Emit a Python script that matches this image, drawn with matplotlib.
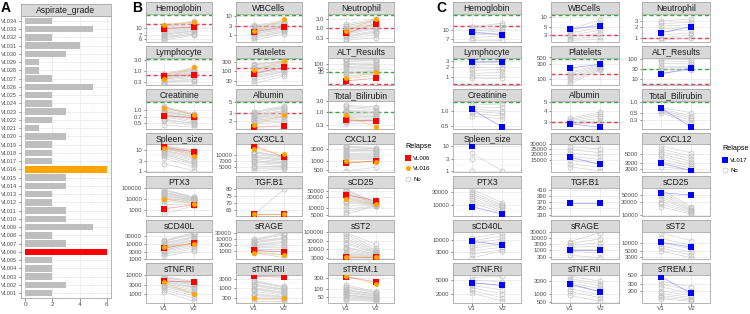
import numpy as np
import matplotlib
matplotlib.use('Agg')
import matplotlib.pyplot as plt
from matplotlib.lines import Line2D
from matplotlib.ticker import NullLocator

plt.rcParams['font.family'] = ['Liberation Sans', 'DejaVu Sans']

# ---------------- Panel A data ----------------
A_IDS = ['VL001', 'VL002', 'VL003', 'VL004', 'VL005', 'VL006', 'VL007', 'VL008', 'VL009', 'VL010',
         'VL011', 'VL012', 'VL013', 'VL014', 'VL015', 'VL016', 'VL017', 'VL018', 'VL019', 'VL020',
         'VL021', 'VL022', 'VL023', 'VL024', 'VL025', 'VL026', 'VL027', 'VL028', 'VL029', 'VL030',
         'VL031', 'VL032', 'VL033', 'VL034']
A_GRADE = [2, 3, 2, 2, 2, 6, 3, 2, 5, 3, 3, 2, 2, 3, 3, 6, 2, 2, 2, 3,
           1, 2, 3, 2, 2, 5, 2, 1, 1, 3, 4, 2, 5, 2]
A_TICKS = [0, 2, 4, 6]

FACETS = ['Hemoglobin', 'WBCells', 'Neutrophil', 'Lymphocyte', 'Platelets', 'ALT_Results',
          'Creatinine', 'Albumin', 'Total_Bilirubin', 'Spleen_size', 'CX3CL1', 'CXCL12',
          'PTX3', 'TGF.B1', 'sCD25', 'sCD40L', 'sRAGE', 'sST2', 'sTNF.RI', 'sTNF.RII', 'sTREM.1']
LINEAR = ['TGF.B1']

# reference limits (upper = green, lower = red)
UPPER = {'Hemoglobin': 17.5, 'WBCells': 11, 'Neutrophil': 4.5, 'Lymphocyte': 3.5, 'Platelets': 450,
         'ALT_Results': 30, 'Creatinine': 1.5, 'Albumin': 5, 'Total_Bilirubin': 1.0}
LOWER = {'Hemoglobin': 11.5, 'WBCells': 3, 'Neutrophil': 1.0, 'Lymphocyte': 0.65, 'Platelets': 150,
         'ALT_Results': 6, 'Albumin': 3}

# ---------------- Panel B data ----------------
B_NO_V1 = {
    'Hemoglobin': [11.0, 10.8, 10.5, 10.0, 9.6, 9.3, 9.0, 8.6, 8.2, 7.8, 7.4, 7.2, 7.0, 6.5, 6.3, 6.0, 5.6],
    'WBCells': [3.4, 3.0, 2.8, 2.6, 2.2, 2.0, 1.9, 1.7, 1.5, 1.3, 1.2, 1.1, 0.9, 0.8, 0.7, 0.55],
    'Neutrophil': [1.5, 1.3, 1.2, 1.0, 0.9, 0.85, 0.7, 0.6, 0.55, 0.5, 0.45, 0.38, 0.35, 0.32, 0.27, 0.22],
    'Lymphocyte': [0.72, 0.7, 0.68, 0.62, 0.58, 0.55, 0.52, 0.48, 0.44, 0.42, 0.4, 0.36, 0.32, 0.3, 0.28, 0.25],
    'Platelets': [240, 220, 200, 170, 150, 140, 120, 100, 90, 85, 70, 55, 50, 42, 30, 21],
    'ALT_Results': [200, 185, 170, 140, 110, 100, 90, 70, 60, 55, 42, 32, 28, 24, 18, 12],
    'Creatinine': [1.2, 1.15, 1.1, 1.0, 0.95, 0.92, 0.9, 0.85, 0.8, 0.78, 0.75, 0.7, 0.62, 0.58, 0.55, 0.45],
    'Albumin': [3.2, 3.1, 3.0, 2.8, 2.7, 2.6, 2.5, 2.4, 2.35, 2.3, 2.2, 2.1, 2.05, 2.0, 1.9, 1.75],
    'Total_Bilirubin': [2.0, 1.8, 1.6, 1.3, 1.2, 1.1, 0.95, 0.85, 0.75, 0.7, 0.65, 0.55, 0.48, 0.45, 0.42, 0.37],
    'Spleen_size': [16, 15, 14, 12.5, 12, 11, 10, 9.5, 9, 8, 7, 6.5, 6, 5, 4, 2.2],
    'CX3CL1': [12500, 12000, 11500, 10500, 9500, 9000, 8800, 8000, 7300, 7000, 6600, 6000, 5300, 5000, 4600, 4000],
    'CXCL12': [3800, 3500, 3300, 2900, 2700, 2600, 2300, 2000, 1900, 1800, 1600, 1400, 1300, 1200, 900, 450],
    'PTX3': [80000, 70000, 60000, 45000, 40000, 35000, 28000, 22000, 20000, 17000, 13000, 11000, 9000, 6000, 3000, 400],
    'TGF.B1': [61.5],
    'sCD25': [60000, 55000, 50000, 42000, 40000, 36000, 30000, 28000, 25000, 20000, 18000, 16000, 12000, 9000, 7000, 5500],
    'sCD40L': [17000, 15000, 14000, 11000, 10000, 9000, 7500, 6500, 6000, 5000, 4000, 3500, 3200, 2500, 2000, 1500],
    'sRAGE': [9000, 8000, 7000, 5500, 5000, 4500, 3500, 3000, 2800, 2200, 1800, 1600, 1400, 1100, 900, 730],
    'sST2': [95000, 80000, 60000, 45000, 35000, 25000, 20000, 14000, 12000, 10000, 8000, 6500, 5500, 4800, 4200, 3800],
    'sTNF.RI': [9000, 8000, 7500, 6500, 6000, 5500, 4800, 4500, 4200, 3600, 3000, 2800, 2500, 2000, 1600, 1300],
    'sTNF.RII': [2500, 2200, 2000, 1600, 1500, 1300, 1000, 900, 800, 650, 500, 450, 400, 320, 250, 200],
    'sTREM.1': [150, 130, 120, 100, 95, 90, 80, 75, 70, 62, 58, 56, 50, 45, 40, 36],
}
B_NO_V2 = {
    'Hemoglobin': [13.5, 12.8, 12.2, 11.8, 11.0, 10.2, 10.6, 10.0, 9.6, 9.2, 8.8, 8.6, 8.4, 8.0, 7.4, 7.6, 7.1],
    'WBCells': [5.4, 4.8, 4.5, 4.2, 3.8, 3.2, 3.4, 3.0, 2.7, 2.4, 2.2, 2.1, 1.8, 1.6, 1.5, 1.2],
    'Neutrophil': [3.0, 2.4, 2.6, 2.2, 1.5, 1.9, 1.6, 1.3, 1.0, 1.1, 0.9, 0.7, 0.6, 0.55, 0.42, 0.3],
    'Lymphocyte': [1.4, 1.1, 1.2, 1.05, 0.95, 0.8, 0.85, 0.75, 0.68, 0.55, 0.6, 0.5, 0.42, 0.38, 0.33, 0.25],
    'Platelets': [340, 320, 300, 260, 210, 230, 200, 175, 140, 150, 130, 110, 95, 90, 70, 55],
    'ALT_Results': [200, 170, 150, 120, 95, 85, 75, 60, 55, 50, 40, 33, 36, 28, 24, 20],
    'Creatinine': [0.82, 0.78, 0.8, 0.76, 0.72, 0.7, 0.68, 0.64, 0.6, 0.62, 0.56, 0.52, 0.48, 0.5, 0.44, 0.4],
    'Albumin': [4.2, 3.8, 4.0, 3.7, 3.3, 3.4, 3.2, 3.0, 2.9, 2.8, 2.6, 2.4, 2.5, 2.2, 2.05, 1.9],
    'Total_Bilirubin': [1.7, 1.5, 1.3, 1.1, 1.0, 0.95, 0.85, 0.75, 0.7, 0.65, 0.58, 0.52, 0.46, 0.5, 0.41, 0.37],
    'Spleen_size': [10, 9, 8, 6.5, 7, 6, 5, 4.5, 4, 3.5, 3, 2.2, 2.5, 2, 1.5, 1],
    'CX3CL1': [9400, 9200, 9000, 8500, 8000, 7700, 7400, 6900, 6400, 6200, 5900, 5400, 5000, 5200, 4700, 4400],
    'CXCL12': [3200, 3000, 2900, 2600, 2500, 2400, 2200, 2000, 1900, 1800, 1600, 1400, 1300, 1200, 1000, 600],
    'PTX3': [15000, 14000, 13000, 11500, 10500, 10000, 9000, 8000, 8500, 7000, 6000, 6500, 5000, 4200, 3400, 2500],
    'TGF.B1': [80],
    'sCD25': [17000, 16500, 16000, 15500, 15000, 15000, 14500, 14000, 14000, 13500, 13000, 13000, 12500, 12000, 12000, 12000],
    'sCD40L': [52000, 45000, 40000, 30000, 27000, 24000, 19000, 17000, 15000, 12000, 9500, 10500, 7500, 6000, 4500, 3300],
    'sRAGE': [30000, 25000, 20000, 13000, 11000, 9000, 6000, 5000, 4000, 2800, 2000, 1600, 1300, 900, 500, 290],
    'sST2': [20000, 12000, 9000, 8000, 7000, 6500, 6000, 5000, 5500, 4600, 4300, 4000, 3800, 3600, 3400, 3200],
    'sTNF.RI': [4800, 4400, 4000, 3400, 3100, 2900, 2400, 2200, 2000, 1600, 1300, 1100, 1000, 800, 600, 400],
    'sTNF.RII': [1200, 1100, 1000, 850, 780, 700, 600, 550, 500, 420, 360, 330, 300, 260, 230, 200],
    'sTREM.1': [80, 75, 70, 62, 60, 56, 50, 52, 46, 42, 44, 40, 38, 36, 34, 32],
}
B_VL006 = {
    'Hemoglobin': (9.5, 10.3), 'WBCells': (1.5, 2.8), 'Neutrophil': (0.52, 1.63),
    'Lymphocyte': (0.58, 0.62), 'Platelets': (73, 156), 'ALT_Results': (9, 13),
    'Creatinine': (0.73, 0.67), 'Albumin': (1.5, 1.6), 'Total_Bilirubin': (0.49, 0.45),
    'Spleen_size': (13.4, 8.1), 'CX3CL1': (17600, 9000), 'CXCL12': (850, 1050),
    'PTX3': (1260, 3000), 'TGF.B1': (62, 62), 'sCD25': (35700, 20000),
    'sCD40L': (5100, 11000), 'sRAGE': (1130, 830), 'sST2': (3700, 3700),
    'sTNF.RI': (4800, 4400), 'sTNF.RII': (4050, 3600), 'sTREM.1': (330, 200),
}
B_VL016 = {
    'Hemoglobin': (11.4, 12.7), 'WBCells': (1.6, 7.2), 'Neutrophil': (0.69, 3.0),
    'Lymphocyte': (0.41, 1.48), 'Platelets': (110, 330), 'ALT_Results': (13, 30),
    'Creatinine': (1.13, 0.77), 'Albumin': (1.7, 2.7), 'Total_Bilirubin': (0.75, 0.24),
    'Spleen_size': (13, 5.3), 'CX3CL1': (14300, 10900), 'CXCL12': (1050, 920),
    'PTX3': (11000, 3600), 'TGF.B1': (62, 62), 'sCD25': (23000, 14000),
    'sCD40L': (6400, 10000), 'sRAGE': (730, 500), 'sST2': (3600, 3600),
    'sTNF.RI': (4200, 950), 'sTNF.RII': (290, 290), 'sTREM.1': (345, 160),
}
B_TICKS = {
    'Hemoglobin': ['6', '7', '10'], 'WBCells': ['1', '3', '10'], 'Neutrophil': ['0.3', '1.0', '3.0'],
    'Lymphocyte': ['0.3', '1.0', '3.0'], 'Platelets': ['30', '100', '300'],
    'ALT_Results': ['30', '50', '100'], 'Creatinine': ['0.5', '0.7', '1.0'],
    'Albumin': ['2', '3', '5'], 'Total_Bilirubin': ['0.3', '1.0', '3.0'],
    'Spleen_size': ['1', '3', '10'], 'CX3CL1': ['5000', '7000', '10000'],
    'CXCL12': ['500', '1000', '3000'], 'PTX3': ['1000', '10000', '100000'],
    'TGF.B1': ['65', '70', '75', '80'], 'sCD25': ['5000', '10000', '30000', '50000'],
    'sCD40L': ['1000', '3000', '10000', '30000'], 'sRAGE': ['1000', '3000', '10000', '30000'],
    'sST2': ['3000', '10000', '30000', '100000'], 'sTNF.RI': ['1000', '3000', '10000'],
    'sTNF.RII': ['300', '1000', '3000'], 'sTREM.1': ['50', '100', '300'],
}

# ---------------- Panel C data ----------------
NA = np.nan
C_NO_V1 = {
    'Hemoglobin': [11.2, 10.6, 10.0, 9.5, 8.8, 8.2, 7.5, 6.8],
    'WBCells': [4.6, 4.0, 3.5, 3.0, 2.7, 2.4, 2.2],
    'Neutrophil': [3.1, 2.6, 2.2, 1.8, 1.5, 1.2, 1.0, 0.85],
    'Lymphocyte': [2.8, 2.3, 1.9, 1.6, 1.3, 1.1, 0.95],
    'Platelets': [170, 150, 130, 115, 100, 85, 72],
    'ALT_Results': [100, 80, 60, 45, 35, 28, 20],
    'Creatinine': [1.3, 1.2, 1.1, 1.0, 0.9, 0.8],
    'Albumin': [3.3, 3.2, 3.1, 3.0, 2.95, 2.9],
    'Total_Bilirubin': [0.7, 0.65, 0.6, 0.55, 0.5],
    'Spleen_size': [5, 3, 1],
    'CX3CL1': [27000, 24000, 21000, 18000, 15000, 13000, 11300],
    'CXCL12': [8600, 7000, 6000, 5200, 4500, 3800, 3200, 2300],
    'PTX3': [40000, 32000, 26000, 22000, 18000, 15000, 12000],
    'TGF.B1': [],
    'sCD25': [80000, 65000, 55000, 45000, 38000, 30000, 25000, 20000],
    'sCD40L': [12000, 9000, 7000, 5500, 4500, 3500, 2500, 1800],
    'sRAGE': [4800, 3500, 2500, 1800, 1200, 800, 400],
    'sST2': [24000, 15000, 10000, 8000, 6500, 5000],
    'sTNF.RI': [6000, 5000, 4200, 3500, 3000, 2500, 2100],
    'sTNF.RII': [4300, 3500, 3000, 2500, 2000, 1500, 1200, 850],
    'sTREM.1': [350, 300, 250, 200, 170, 150, 135, 125],
}
C_NO_V2 = {
    'Hemoglobin': [13.0, 12.0, 11.2, 10.5, 9.8, 9.0, 8.0, 6.8],
    'WBCells': [8.0, 6.5, 5.0, 4.2, 3.5, 2.8, 2.3],
    'Neutrophil': [3.5, 2.8, 2.4, 2.0, 1.7, 1.4, 1.2, 1.0],
    'Lymphocyte': [2.8, 2.4, 2.0, 1.7, 1.4, 1.15, 0.95],
    'Platelets': [300, 280, 260, 240, 225, 210, 200],
    'ALT_Results': [90, 70, 55, 45, 38, 32, 28],
    'Creatinine': [1.4, 1.2, 1.0, 0.9, 0.8, 0.7],
    'Albumin': [3.9, 3.7, 3.5, 3.3, 3.1, 2.9],
    'Total_Bilirubin': [0.5, 0.4, 0.35, 0.3, 0.25],
    'Spleen_size': [1, NA, NA],
    'CX3CL1': [25000, 21000, 18000, 15500, 13000, 11000, 9500],
    'CXCL12': [5500, 4500, 3800, 3200, 2800, 2400, 2100, 1900],
    'PTX3': [12000, 10000, 9000, 8000, 7000, 6000, 5000],
    'TGF.B1': [],
    'sCD25': [20000, 18000, 16000, 15000, 14000, 13000, 12000, 11000],
    'sCD40L': [20000, 15000, 11000, 8500, 6500, 5000, 4000, 3500],
    'sRAGE': [25000, 8000, 4000, 2000, 1200, 600, 250],
    'sST2': [12000, 8000, 6000, 4500, 3500, 2800],
    'sTNF.RI': [6500, 4500, 3500, 2600, 2000, 1500, 1200],
    'sTNF.RII': [2800, 2300, 1900, 1500, 1200, 900, 700, 520],
    'sTREM.1': [250, 200, 170, 150, 135, 125, 115, 108],
}
C_VL017 = {
    'Hemoglobin': (9.2, 8.3), 'WBCells': (4.6, 5.5), 'Neutrophil': (1.4, 2.1),
    'Lymphocyte': (2.8, 2.9), 'Platelets': (228, 306), 'ALT_Results': (18, 35),
    'Creatinine': (1.1, 0.48), 'Albumin': (2.87, 2.62), 'Total_Bilirubin': (0.68, 0.19),
    'Spleen_size': (10, NA), 'CX3CL1': (17200, 12600), 'CXCL12': (2900, 1800),
    'PTX3': (8500, 4300), 'TGF.B1': (366, 366), 'sCD25': (61000, 50000),
    'sCD40L': (9000, 6000), 'sRAGE': (1130, 1130), 'sST2': (10600, 7000),
    'sTNF.RI': (4200, 3500), 'sTNF.RII': (2250, 1160), 'sTREM.1': (457, 170),
}
C_TICKS = {
    'Hemoglobin': ['7', '10'], 'WBCells': ['3', '5', '10'], 'Neutrophil': ['1', '2', '3'],
    'Lymphocyte': ['1', '2', '3'], 'Platelets': ['100', '300', '500'],
    'ALT_Results': ['10', '30', '100'], 'Creatinine': ['0.5', '1.0'],
    'Albumin': ['3', '4', '5'], 'Total_Bilirubin': ['0.3', '0.5', '1.0'],
    'Spleen_size': ['1', '3', '10'], 'CX3CL1': ['15000', '20000', '25000', '30000'],
    'CXCL12': ['2000', '3000', '5000'], 'PTX3': ['10000', '30000'],
    'TGF.B1': ['330', '350', '370', '390', '410'], 'sCD25': ['10000', '30000', '50000'],
    'sCD40L': ['3000', '10000'], 'sRAGE': ['300', '1000', '3000', '10000', '30000'],
    'sST2': ['3000', '5000', '10000'], 'sTNF.RI': ['2000', '5000'],
    'sTNF.RII': ['500', '1000', '3000'], 'sTREM.1': ['200', '300', '500'],
}
C_YLIM = {'TGF.B1': (327, 415)}

# ---------------- layout / style ----------------
W, H = 750, 314
fig = plt.figure(figsize=(W / 100, H / 100), dpi=100)
STRIP_H, PANEL_H, ROW_STEP, TOP = 12, 27.5, 43.5, 2
B_X, B_W = [146, 236, 328], 66
C_X, C_W = [453, 551, 642], 68
GREY_LINE = '#CCCCCC'
GREY_PT = '#BDBDBD'
GRID = '#EBEBEB'
BORDER = '#A8A8A8'
TICK_FS = 4.3
STRIP_FS = 6.2
GREEN = '#36A83E'
RED_LINE = '#EE3A55'


def px_axes(x, y, w, h):
    return fig.add_axes([x / W, 1 - (y + h) / H, w / W, h / H])


def style_ax(ax, fs=TICK_FS):
    for s in ax.spines.values():
        s.set_color(BORDER)
        s.set_linewidth(0.6)
    ax.tick_params(axis='both', length=1.8, width=0.4, color='#333333', labelsize=fs,
                   labelcolor='#4D4D4D', pad=1)


def strip(x, y, w, name):
    s = px_axes(x, y, w, STRIP_H)
    s.set_facecolor('#D9D9D9')
    s.set_xticks([])
    s.set_yticks([])
    for sp in s.spines.values():
        sp.set_color(BORDER)
        sp.set_linewidth(0.6)
    s.text(0.5, 0.45, name, ha='center', va='center', fontsize=STRIP_FS, color='#1A1A1A',
           transform=s.transAxes)


def facet(x, y, w, name, no1, no2, highlights, ticklabels, bottom, ylim=None):
    strip(x, y, w, name)
    ax = px_axes(x, y + STRIP_H, w, PANEL_H)
    style_ax(ax)
    log = name not in LINEAR
    hl = [v for v in (UPPER.get(name), LOWER.get(name)) if v is not None]
    vals = [v for v in list(no1) + list(no2) if np.isfinite(v)]
    for (a, b), *_ in highlights:
        vals += [v for v in (a, b) if np.isfinite(v)]
    vals += hl
    if ylim is None:
        arr = np.log10(vals) if log else np.array(vals, float)
        lo, hi = arr.min(), arr.max()
        span = hi - lo
        lo, hi = lo - 0.05 * span, hi + 0.05 * span
        ylim = (10 ** lo, 10 ** hi) if log else (lo, hi)
    if log:
        ax.set_yscale('log')
    ax.set_ylim(*ylim)
    ax.set_xlim(0.4, 2.6)
    ticks = [float(t) for t in ticklabels]
    tr = np.log10 if log else (lambda v: np.asarray(v, float))
    itr = (lambda v: 10 ** v) if log else (lambda v: v)
    tt = tr(np.array(ticks))
    if len(tt) > 1:
        step = np.diff(tt)
        mids = list((tt[:-1] + tt[1:]) / 2) + [tt[0] - step[0] / 2, tt[-1] + step[-1] / 2]
        for m in mids:
            ax.axhline(itr(m), color='#F4F4F4', lw=0.35, zorder=0)
    for t in ticks:
        ax.axhline(t, color=GRID, lw=0.6, zorder=0)
    for xv in (1, 2):
        ax.axvline(xv, color=GRID, lw=0.6, zorder=0)
    if name in UPPER:
        ax.axhline(UPPER[name], color=GREEN, lw=1.0, ls=(0, (3, 2)), zorder=1)
    if name in LOWER:
        ax.axhline(LOWER[name], color=RED_LINE, lw=1.0, ls=(0, (3, 2)), zorder=1)
    for a, b in zip(no1, no2):
        ax.plot([1, 2], [a, b], color=GREY_LINE, lw=0.4, zorder=2)
    ax.plot([1] * len(no1), no1, 'o', mfc='none', mec=GREY_PT, ms=3.6, mew=0.5, zorder=3)
    ax.plot([2] * len(no2), no2, 'o', mfc='none', mec=GREY_PT, ms=3.6, mew=0.5, zorder=3)
    for (a, b), col, lcol, mk, ms in highlights:
        ax.plot([1, 2], [a, b], color=lcol, lw=0.6, zorder=4)
        ax.plot([1, 2], [a, b], mk, color=col, ms=ms, mew=0, zorder=5)
    ax.set_yticks(ticks)
    ax.set_yticklabels(ticklabels)
    ax.yaxis.set_minor_locator(NullLocator())
    if bottom:
        ax.set_xticks([1, 2])
        ax.set_xticklabels(['V1', 'V2'], fontsize=4.6)
    else:
        ax.set_xticks([])
    return ax


# ---------------- Panel A ----------------
axA = px_axes(21, 16, 90, 282)
strip(21, 4, 90, 'Aspirate_grade')
style_ax(axA, fs=4.0)
ypos = np.arange(1, len(A_IDS) + 1)
cols = ['#FF0000' if i == 'VL006' else '#FFA500' if i == 'VL016' else '#BEBEBE' for i in A_IDS]
for y in ypos:
    axA.axhline(y, color=GRID, lw=0.6, zorder=0)
for xv in A_TICKS:
    axA.axvline(xv, color=GRID, lw=0.6, zorder=0)
for xv in [1, 3, 5]:
    axA.axvline(xv, color='#F4F4F4', lw=0.35, zorder=0)
axA.barh(ypos, A_GRADE, height=0.8, color=cols, zorder=2)
axA.set_xlim(-0.3, 6.3)
axA.set_ylim(0.4, len(A_IDS) + 0.6)
axA.set_yticks(ypos)
axA.set_yticklabels(A_IDS)
axA.set_xticks(A_TICKS)
axA.set_xticklabels([str(t) for t in A_TICKS], fontsize=4.6)

# ---------------- Panel B ----------------
for k, name in enumerate(FACETS):
    r, c = divmod(k, 3)
    y = TOP + r * ROW_STEP
    hls = [(B_VL006[name], '#FF0000', (1, 0, 0, 0.35), 's', 3.8),
           (B_VL016[name], '#FFA500', (1, 0.65, 0, 0.35), 'o', 3.6)]
    facet(B_X[c], y, B_W, name, B_NO_V1[name], B_NO_V2[name], hls, B_TICKS[name], r == 6)

# ---------------- Panel C ----------------
for k, name in enumerate(FACETS):
    r, c = divmod(k, 3)
    y = TOP + r * ROW_STEP
    hls = [(C_VL017[name], '#0000FF', (0.45, 0.45, 1, 0.6), 's', 3.8)]
    facet(C_X[c], y, C_W, name, C_NO_V1[name], C_NO_V2[name], hls, C_TICKS[name], r == 6,
          C_YLIM.get(name))

# ---------------- legends ----------------
hB = [Line2D([], [], marker='s', color='#FF0000', ls='none', ms=3.8, mew=0),
      Line2D([], [], marker='o', color='#FFA500', ls='none', ms=3.6, mew=0),
      Line2D([], [], marker='o', mfc='none', mec=GREY_PT, ls='none', ms=3.6, mew=0.5)]
legB = fig.legend(hB, ['VL006', 'VL016', 'No'], title='Relapse', loc='upper left',
                  bbox_to_anchor=(400 / W, 1 - 138 / H), frameon=False, fontsize=4.3,
                  title_fontsize=5.2, handlelength=0.8, handletextpad=0.5, labelspacing=0.9)
legB._legend_box.align = 'left'
hC = [Line2D([], [], marker='s', color='#0000FF', ls='none', ms=3.8, mew=0),
      Line2D([], [], marker='o', mfc='none', mec=GREY_PT, ls='none', ms=3.6, mew=0.5)]
legC = fig.legend(hC, ['VL017', 'No'], title='Relapse', loc='upper left',
                  bbox_to_anchor=(717 / W, 1 - 140 / H), frameon=False, fontsize=4.3,
                  title_fontsize=5.2, handlelength=0.8, handletextpad=0.5, labelspacing=0.9)
legC._legend_box.align = 'left'

# ---------------- panel letters ----------------
for lx, lab in [(1, 'A'), (132, 'B'), (436, 'C')]:
    fig.text(lx / W, 1 - 1 / H, lab, fontsize=10, fontweight='bold', ha='left', va='top')

fig.savefig('out.png', dpi=100)
